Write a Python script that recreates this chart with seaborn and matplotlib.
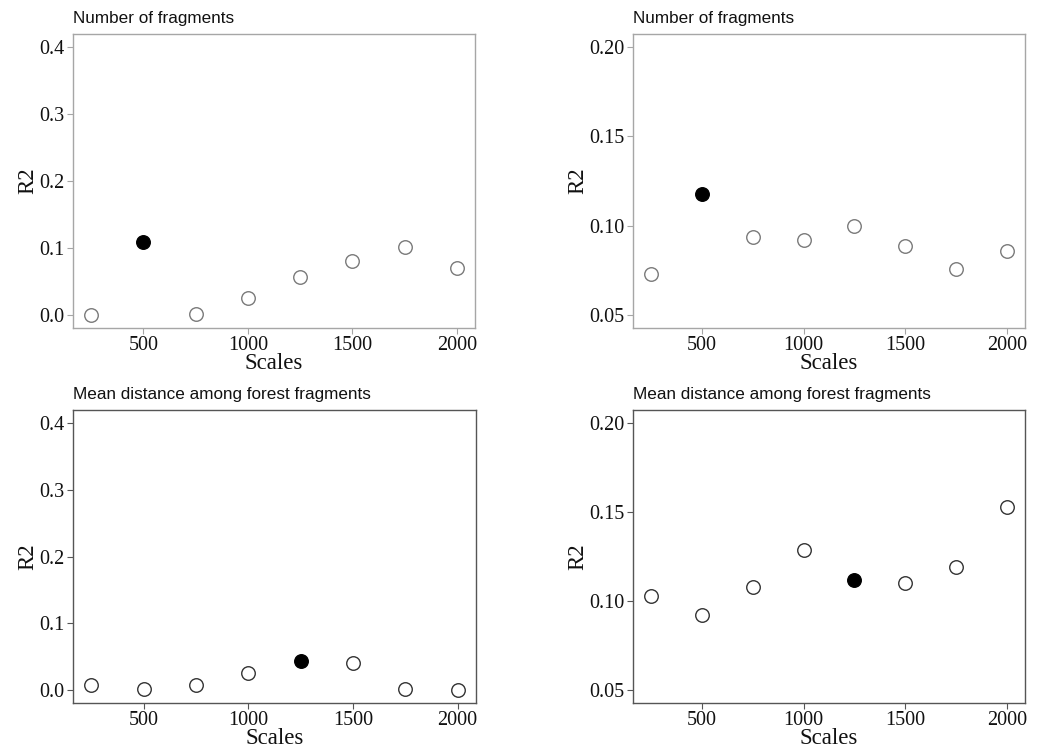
import matplotlib
matplotlib.use("Agg")
import matplotlib.pyplot as plt
import seaborn as sns
import pandas as pd

scales = [250, 500, 750, 1000, 1250, 1500, 1750, 2000]

r2_frag_a = [0.000, 0.109, 0.001, 0.0255, 0.057, 0.081, 0.101, 0.070]
best_frag_a = [False, True, False, False, False, False, False, False]

r2_frag_b = [0.0726, 0.1178, 0.0936, 0.0917, 0.0996, 0.0888, 0.0757, 0.0858]
best_frag_b = [False, True, False, False, False, False, False, False]

r2_dist_a = [0.007, 0.0005, 0.0075, 0.0255, 0.0426, 0.040, 0.0003, 0.0]
best_dist_a = [False, False, False, False, True, False, False, False]

r2_dist_b = [0.103, 0.0919, 0.1079, 0.1286, 0.112, 0.1102, 0.119, 0.1528]
best_dist_b = [False, False, False, False, True, False, False, False]

title_frag = "Number of fragments"
title_dist = "Mean distance among forest fragments"
xlabel = "Scales"
ylabel = "R2"

xticks = [500, 1000, 1500, 2000]
yticks_a = [0.0, 0.1, 0.2, 0.3, 0.4]
ytick_labels_a = ["0.0", "0.1", "0.2", "0.3", "0.4"]
yticks_b = [0.05, 0.10, 0.15, 0.20]
ytick_labels_b = ["0.05", "0.10", "0.15", "0.20"]

sns.set_theme(style="white")
plt.rcParams['font.family'] = ['Liberation Serif', 'DejaVu Serif']

W, H = 1042, 754
fig = plt.figure(figsize=(W / 100, H / 100), dpi=100)


def px_axes(left, right, top, bottom):
    return fig.add_axes([left / W, (H - bottom) / H, (right - left) / W, (bottom - top) / H])


panels = [
    dict(box=(73, 475, 34, 328), y=r2_frag_a, best=best_frag_a, title=title_frag,
         yt=yticks_a, ytl=ytick_labels_a, ylim=(-0.02, 0.42), spine="#a6a6a6", edge="#7a7a7a",
         ylab_x=-0.112),
    dict(box=(633, 1025, 34, 328), y=r2_frag_b, best=best_frag_b, title=title_frag,
         yt=yticks_b, ytl=ytick_labels_b, ylim=(0.0425, 0.2075), spine="#a6a6a6", edge="#7a7a7a",
         ylab_x=-0.140),
    dict(box=(73, 476, 410, 703), y=r2_dist_a, best=best_dist_a, title=title_dist,
         yt=yticks_a, ytl=ytick_labels_a, ylim=(-0.02, 0.42), spine="#555555", edge="#333333",
         ylab_x=-0.112),
    dict(box=(633, 1025, 410, 703), y=r2_dist_b, best=best_dist_b, title=title_dist,
         yt=yticks_b, ytl=ytick_labels_b, ylim=(0.0425, 0.2075), spine="#555555", edge="#333333",
         ylab_x=-0.140),
]

for p in panels:
    l, r, t, b = p["box"]
    ax = px_axes(l, r, t, b)
    df = pd.DataFrame({"scale": scales, "r2": p["y"], "best": p["best"]})
    sns.scatterplot(data=df[~df["best"]], x="scale", y="r2", ax=ax, s=95,
                    color="white", edgecolor=p["edge"], linewidth=1.0, zorder=3)
    sns.scatterplot(data=df[df["best"]], x="scale", y="r2", ax=ax, s=95,
                    color="black", edgecolor="black", linewidth=1.0, zorder=4)
    ax.set_xlim(162.5, 2087.5)
    ax.set_ylim(*p["ylim"])
    ax.set_xticks(xticks)
    ax.set_xticklabels([str(v) for v in xticks])
    ax.set_yticks(p["yt"])
    ax.set_yticklabels(p["ytl"])
    for s in ax.spines.values():
        s.set_visible(True)
        s.set_color(p["spine"])
        s.set_linewidth(1.0)
    ax.tick_params(axis="both", which="major", direction="out", length=4, width=0.8,
                   color=p["spine"], labelsize=14.5, labelcolor="#111111", pad=2,
                   bottom=True, left=True)
    ax.set_xlabel(xlabel, fontsize=16.5, color="#111111", va="center")
    ax.xaxis.set_label_coords(0.5, -0.12)
    ax.set_ylabel(ylabel, fontsize=16.5, color="#111111", va="center")
    ax.yaxis.set_label_coords(p["ylab_x"], 0.5)
    ax.set_facecolor("white")
    fig.text(l / W, 1 - (t - 16) / H, p["title"], fontsize=12.3, family=["Liberation Sans", "DejaVu Sans"],
             ha="left", va="center", color="#111111")

fig.savefig("out.png", dpi=100, facecolor="white")
